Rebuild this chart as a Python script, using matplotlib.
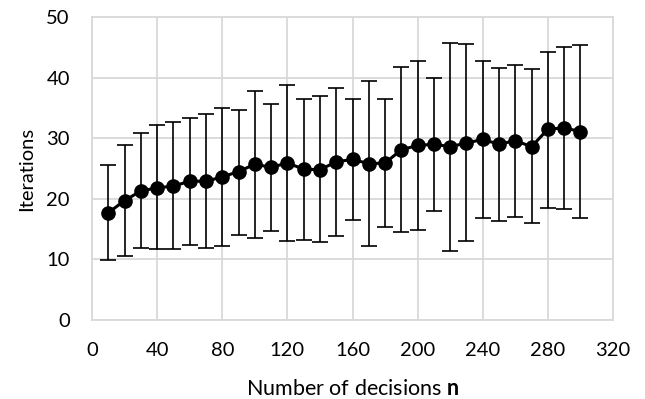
import matplotlib
matplotlib.use("Agg")
import matplotlib.pyplot as plt
import numpy as np

decisions = [10, 20, 30, 40, 50, 60, 70, 80, 90, 100,
             110, 120, 130, 140, 150, 160, 170, 180, 190, 200,
             210, 220, 230, 240, 250, 260, 270, 280, 290, 300]
mean_iter = [17.7, 19.7, 21.3, 21.8, 22.1, 22.9, 22.9, 23.6, 24.5, 25.7,
             25.2, 25.9, 24.9, 24.8, 26.1, 26.5, 25.8, 25.9, 28.1, 28.8,
             29.0, 28.6, 29.2, 29.8, 29.0, 29.6, 28.6, 31.5, 31.7, 31.1]
upper_iter = [25.5, 28.9, 30.8, 32.1, 32.6, 33.4, 34.0, 35.0, 34.7, 37.8,
              35.6, 38.7, 36.5, 36.9, 38.3, 36.5, 39.4, 36.4, 41.7, 42.7,
              40.0, 45.7, 45.5, 42.8, 41.6, 42.1, 41.4, 44.3, 45.1, 45.4]
lower_iter = [9.9, 10.6, 11.9, 11.7, 11.7, 12.4, 11.9, 12.2, 14.1, 13.6,
              14.7, 13.0, 13.2, 12.8, 13.9, 16.5, 12.2, 15.4, 14.6, 14.9,
              18.0, 11.4, 13.0, 16.8, 16.4, 17.0, 16.0, 18.5, 18.3, 16.9]
x_ticks = [0, 40, 80, 120, 160, 200, 240, 280, 320]
y_ticks = [0, 10, 20, 30, 40, 50]

plt.rcParams['font.family'] = ['Lato', 'DejaVu Sans']
plt.rcParams['mathtext.fontset'] = 'custom'
plt.rcParams['mathtext.rm'] = 'Lato'
plt.rcParams['mathtext.bf'] = 'Lato:bold'

fig = plt.figure(figsize=(6.45, 3.99), dpi=100)
ax = fig.add_axes([92/645, 1-320/399, (613-92)/645, (320-17)/399])

m = np.array(mean_iter)
yerr = [m - np.array(lower_iter), np.array(upper_iter) - m]
ax.errorbar(decisions, mean_iter, yerr=yerr, color='black', ecolor='black',
            elinewidth=1.2, capsize=5.5, capthick=1.2, marker='o',
            markersize=9.5, linewidth=2.2, zorder=3)

ax.set_xlim(0, 320)
ax.set_ylim(0, 50)
ax.set_xticks(x_ticks)
ax.set_yticks(y_ticks)
ax.grid(True, color='#d9d9d9', linewidth=1.3, zorder=0)
ax.set_axisbelow(True)
for s in ax.spines.values():
    s.set_color('#d9d9d9')
    s.set_linewidth(1.3)
ax.tick_params(axis='x', length=0, labelsize=14.5, pad=16, colors='black')
ax.tick_params(axis='y', length=0, labelsize=14.5, pad=16, colors='black')
ax.set_xlabel(r'Number of decisions $\mathbf{n}$', fontsize=15.5, labelpad=14)
ax.set_ylabel('Iterations', fontsize=14.5, labelpad=8)

fig.savefig('out.png', dpi=100)
